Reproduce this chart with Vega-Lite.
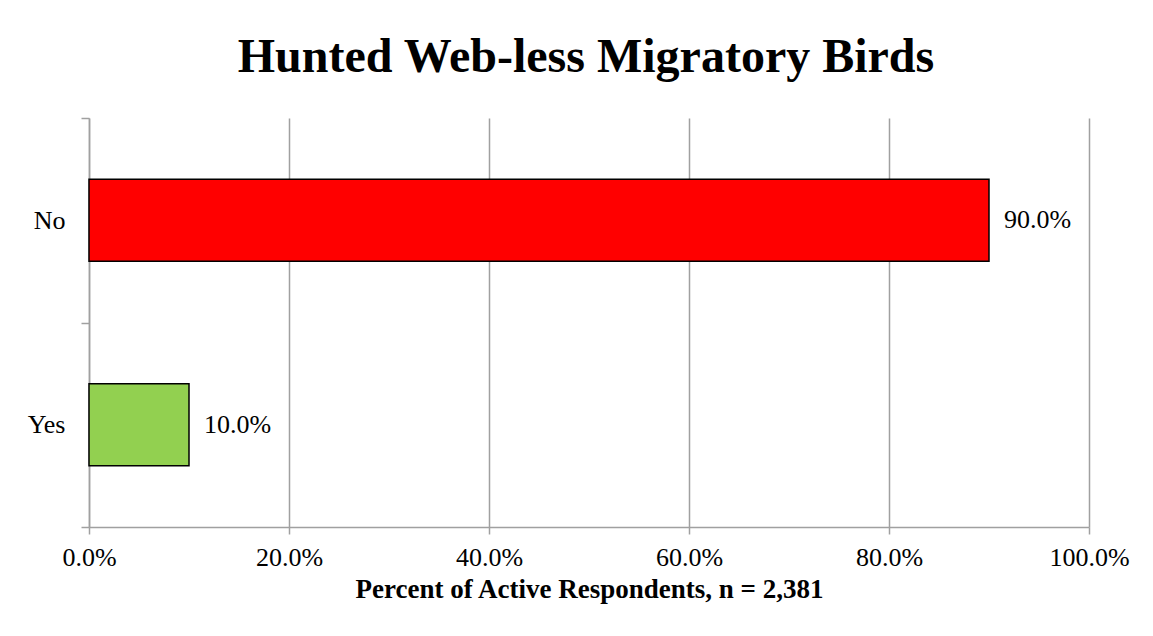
{
  "$schema": "https://vega.github.io/schema/vega-lite/v6.json",
  "autosize": "none",
  "width": 1000,
  "height": 409,
  "padding": {"left": 89, "top": 118, "right": 64, "bottom": 109},
  "background": "white",
  "title": {
    "text": "Hunted Web-less Migratory Birds",
    "font": "Liberation Serif",
    "fontSize": 48,
    "fontWeight": "bold",
    "color": "black",
    "offset": 23,
    "dx": -3
  },
  "data": {
    "values": [
      {"answer": "No", "percent": 0.9},
      {"answer": "Yes", "percent": 0.1}
    ]
  },
  "config": {
    "view": {"stroke": null},
    "font": "Liberation Serif"
  },
  "layer": [
    {
      "mark": {"type": "bar", "height": {"band": 0.4}, "stroke": "black", "strokeWidth": 1.5},
      "encoding": {
        "y": {
          "field": "answer",
          "type": "nominal",
          "sort": ["No", "Yes"],
          "scale": {"paddingInner": 0, "paddingOuter": 0},
          "axis": {
            "title": null,
            "tickBand": "extent",
            "domainColor": "#a0a0a0",
            "domainWidth": 1.5,
            "tickColor": "#a0a0a0",
            "tickWidth": 1.5,
            "tickSize": 8,
            "labelFont": "Liberation Serif",
            "labelFontSize": 26,
            "labelColor": "black",
            "labelPadding": 16,
            "labelAngle": 0,
            "grid": false
          }
        },
        "x": {
          "field": "percent",
          "type": "quantitative",
          "scale": {"domain": [0, 1]},
          "axis": {
            "title": "Percent of Active Respondents, n = 2,381",
            "titleFont": "Liberation Serif",
            "titleFontSize": 27,
            "titleFontWeight": "bold",
            "titleColor": "black",
            "titlePadding": 6,
            "format": ".1%",
            "values": [0, 0.2, 0.4, 0.6, 0.8, 1],
            "grid": true,
            "gridColor": "#a0a0a0",
            "gridWidth": 1.5,
            "domainColor": "#a0a0a0",
            "domainWidth": 1.5,
            "tickColor": "#a0a0a0",
            "tickWidth": 1.5,
            "tickSize": 7,
            "labelFont": "Liberation Serif",
            "labelFontSize": 26,
            "labelColor": "black",
            "labelPadding": 10,
            "labelFlush": false
          }
        },
        "color": {
          "field": "answer",
          "type": "nominal",
          "scale": {"domain": ["No", "Yes"], "range": ["#ff0000", "#92d050"]},
          "legend": null
        }
      }
    },
    {
      "mark": {"type": "text", "align": "left", "baseline": "middle", "dx": 15, "font": "Liberation Serif", "fontSize": 26, "color": "black"},
      "encoding": {
        "y": {"field": "answer", "type": "nominal", "sort": ["No", "Yes"]},
        "x": {"field": "percent", "type": "quantitative"},
        "text": {"field": "percent", "type": "quantitative", "format": ".1%"}
      }
    }
  ]
}
